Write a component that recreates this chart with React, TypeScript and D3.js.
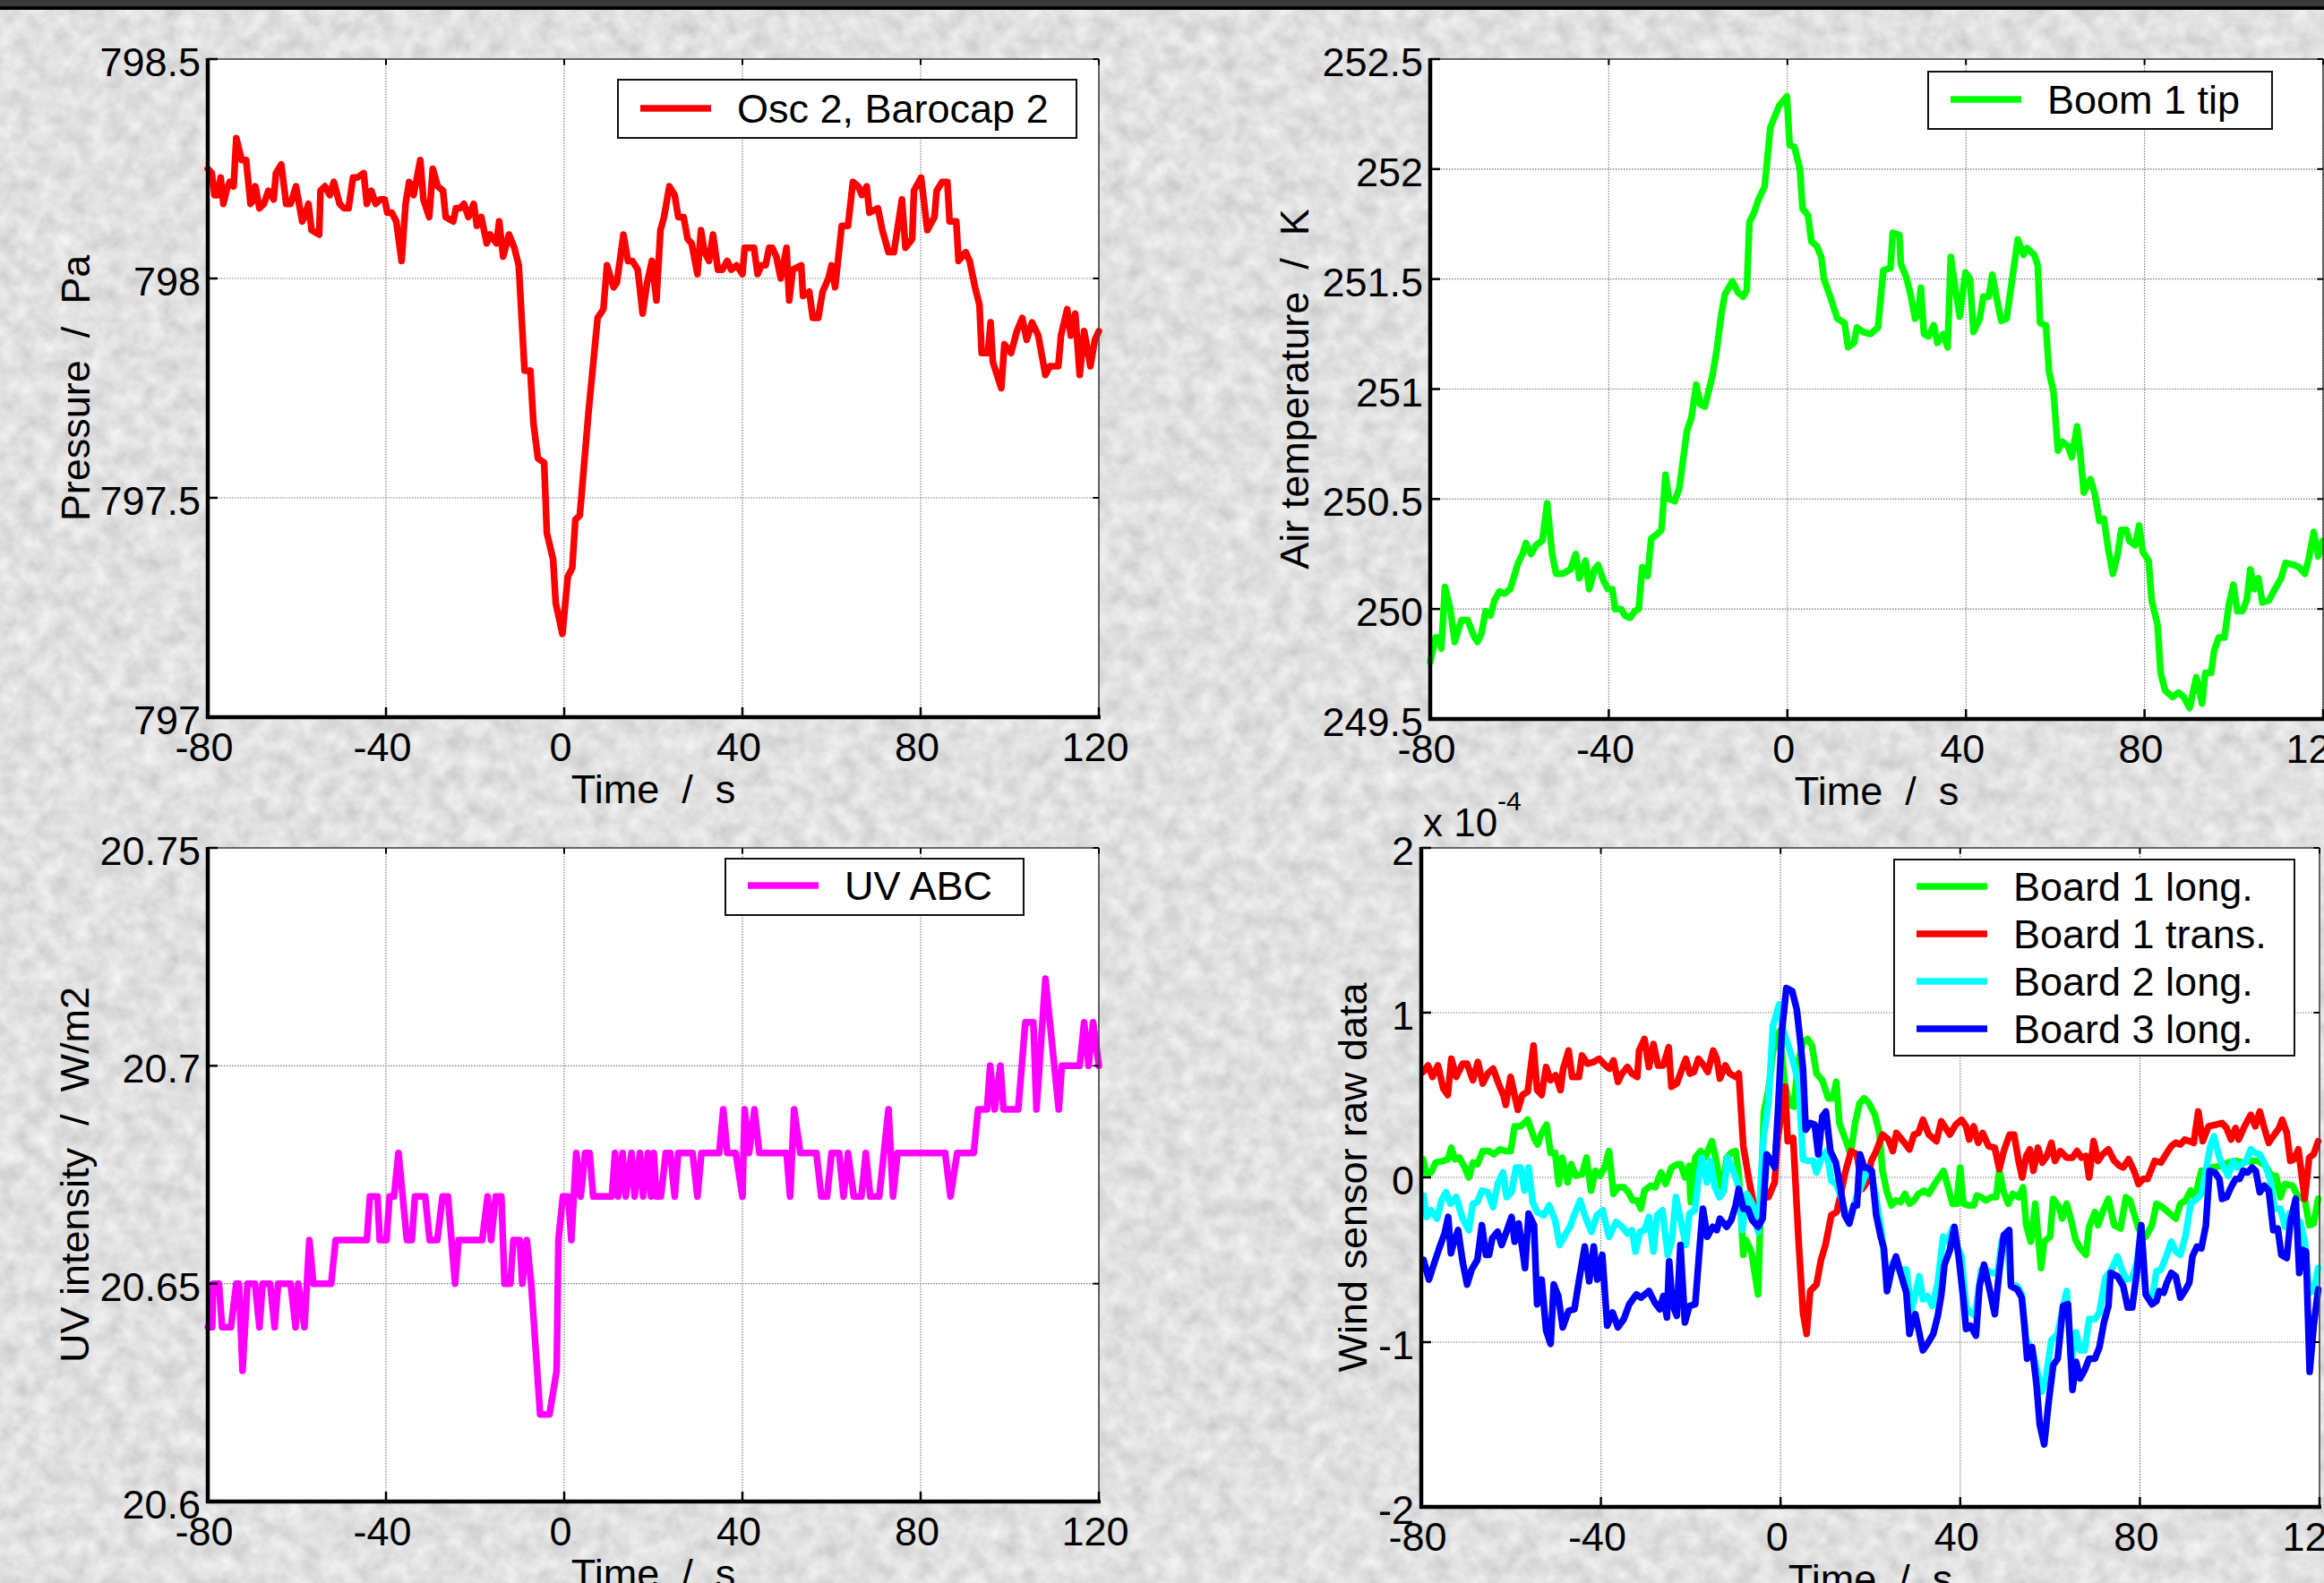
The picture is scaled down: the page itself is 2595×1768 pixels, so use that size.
import * as d3 from 'd3';

type Pt = [number, number];

const X_TICKS = [-80, -40, 0, 40, 80, 120];
const PRESSURE_TICKS = [797, 797.5, 798, 798.5];
const AIR_TEMP_TICKS = [249.5, 250, 250.5, 251, 251.5, 252, 252.5];
const UV_TICKS = [20.6, 20.65, 20.7, 20.75];
const WIND_TICKS = [-2, -1, 0, 1, 2];

// Osc 2, Barocap 2  (time s, Pa)
const pressure: Pt[] = [
  [-80,798.25],[-79.1,798.24],[-78.5,798.19],[-77.8,798.19],[-77.1,798.23],[-76.5,798.17],[-75.8,798.2],[-75.1,798.22],[-74.2,798.21],[-73.6,798.32],
  [-72.4,798.27],[-71.4,798.27],[-70.4,798.17],[-69.7,798.18],[-69.3,798.21],[-68.4,798.16],[-67.4,798.17],[-66.4,798.2],[-65.2,798.18],[-64.7,798.24],
  [-63.5,798.26],[-62.4,798.17],[-61.4,798.17],[-60.2,798.21],[-58.8,798.13],[-58.3,798.14],[-57.4,798.17],[-56.7,798.11],[-55,798.1],[-54.7,798.2],
  [-53.7,798.21],[-52.6,798.19],[-51.7,798.22],[-50.4,798.17],[-49.4,798.16],[-48.4,798.16],[-47.4,798.23],[-46.4,798.23],[-45,798.24],[-44.3,798.17],
  [-43.3,798.2],[-42.3,798.17],[-41.3,798.18],[-40.3,798.18],[-39.7,798.15],[-38.7,798.15],[-37.7,798.13],[-36.5,798.04],[-35.6,798.17],[-34.8,798.22],
  [-33.8,798.19],[-32.3,798.27],[-31.6,798.18],[-30.3,798.14],[-29.5,798.25],[-28.4,798.21],[-27.2,798.2],[-26.6,798.14],[-24.9,798.13],[-24.3,798.16],
  [-23.4,798.16],[-22.5,798.17],[-21.5,798.14],[-20.3,798.17],[-19.6,798.12],[-18.6,798.14],[-17.4,798.08],[-16.6,798.1],[-15.2,798.08],[-14.6,798.13],
  [-13.7,798.05],[-12.4,798.1],[-11.2,798.07],[-10.2,798.03],[-8.9,797.79],[-7.6,797.79],[-6.9,797.67],[-5.9,797.59],[-4.5,797.58],[-3.9,797.42],
  [-2.5,797.36],[-1.9,797.26],[-0.4,797.19],[0.8,797.32],[1.8,797.34],[2.5,797.45],[3.5,797.46],[5.5,797.7],[7.5,797.91],[8.8,797.93],
  [9.6,798.03],[11.1,797.98],[11.8,797.99],[13.3,798.1],[14.3,798.04],[15.3,798.04],[16.5,798.02],[17.6,797.92],[18.6,797.99],[19.7,798.04],
  [20.7,797.95],[21.6,798.11],[22.4,798.14],[23.6,798.21],[24.8,798.19],[25.6,798.14],[26.8,798.14],[27.7,798.09],[28.6,798.08],[29.9,798.01],
  [30.7,798.11],[31.5,798.06],[32.5,798.04],[33.4,798.1],[34.5,798.02],[35.5,798.02],[36.6,798.04],[37.5,798.02],[38.7,798.03],[40,798.01],
  [40.5,798.07],[42.6,798.07],[43.4,798.01],[44.3,798.03],[45.2,798.03],[46,798.07],[46.7,798.07],[47.6,798.05],[48.6,798],[49.9,798.07],
  [50.5,797.95],[51.3,798.02],[53.2,798.03],[53.6,797.96],[55,797.97],[55.8,797.91],[57,797.91],[58,797.97],[59.3,798],[60,798.03],
  [60.8,797.98],[62.3,798.12],[63.7,798.12],[64.8,798.22],[66,798.21],[66.8,798.19],[67.9,798.21],[68.5,798.15],[70.4,798.16],[71.4,798.11],
  [72.8,798.06],[74,798.06],[74.9,798.12],[75.8,798.18],[76.6,798.07],[78.1,798.09],[78.5,798.2],[80.1,798.23],[81.5,798.11],[83.1,798.14],
  [83.6,798.2],[84.8,798.22],[86,798.22],[86.5,798.13],[88,798.13],[88.5,798.04],[90.1,798.06],[91,798.04],[92.2,797.98],[93.2,797.94],
  [93.7,797.83],[95.1,797.83],[95.7,797.9],[96.2,797.81],[98.1,797.75],[98.8,797.85],[100.3,797.83],[101.6,797.88],[102.8,797.91],[103.8,797.86],
  [105,797.9],[106.4,797.87],[108,797.78],[109,797.8],[110.2,797.8],[110.9,797.8],[111.5,797.87],[112.9,797.93],[113.7,797.87],[114.7,797.92],
  [115.7,797.78],[116.7,797.88],[118.1,797.8],[119.1,797.86],[120,797.88],
];

// Boom 1 tip  (time s, K)
const airTemp: Pt[] = [
  [-80,249.76],[-78.8,249.87],[-78.3,249.87],[-77.5,249.82],[-76.7,250.1],[-75.5,250],[-74.5,249.85],[-73,249.95],[-71.6,249.95],[-70.3,249.88],
  [-69.4,249.85],[-68.5,249.89],[-67.6,249.99],[-66.5,249.97],[-65.6,250.04],[-64.5,250.08],[-63.4,250.07],[-62.1,250.09],[-60.3,250.21],[-59.3,250.25],
  [-58.6,250.3],[-57.4,250.25],[-56.3,250.29],[-54.9,250.31],[-53.8,250.48],[-52.7,250.25],[-51.8,250.16],[-50.3,250.16],[-48.6,250.18],[-47.4,250.25],
  [-46.6,250.14],[-45.2,250.22],[-44.4,250.09],[-43.2,250.18],[-42.4,250.2],[-41.2,250.13],[-40.2,250.09],[-39.2,250.09],[-38.6,250],[-37.2,250],
  [-36.4,249.97],[-35.2,249.96],[-34.2,249.99],[-33.3,250],[-32.5,250.19],[-31.3,250.15],[-30.5,250.32],[-29.2,250.34],[-28.2,250.36],[-27.3,250.61],
  [-26.5,250.5],[-25.2,250.49],[-24.2,250.55],[-22.5,250.81],[-21.5,250.87],[-20.4,251.02],[-19.5,250.93],[-18.5,250.92],[-16.8,251.06],[-15.8,251.18],
  [-14.8,251.34],[-14,251.43],[-12.3,251.49],[-11.1,251.44],[-9.9,251.42],[-9.1,251.45],[-8.5,251.76],[-7.5,251.8],[-6.5,251.86],[-5.1,251.92],
  [-3.8,252.19],[-2.8,252.24],[-1.8,252.29],[-0.1,252.33],[0.5,252.11],[1.6,252.1],[2.8,252],[3.4,251.82],[4.6,251.79],[5.4,251.67],
  [6.6,251.65],[7.6,251.6],[8.2,251.5],[9.6,251.42],[11.2,251.32],[12.8,251.3],[13.6,251.19],[14.9,251.21],[15.6,251.28],[16.9,251.26],
  [18.6,251.25],[20.3,251.28],[21.5,251.54],[23.1,251.55],[23.6,251.71],[25.1,251.7],[25.4,251.57],[26.6,251.51],[27.6,251.43],[28.6,251.32],
  [29.3,251.34],[29.9,251.46],[30.6,251.25],[31.6,251.24],[32.8,251.29],[33.6,251.21],[34.9,251.25],[35.9,251.19],[36.6,251.6],[37.6,251.46],
  [38.6,251.33],[39.9,251.53],[40.9,251.5],[41.7,251.26],[43.1,251.32],[43.9,251.42],[45.1,251.42],[45.9,251.52],[46.9,251.41],[47.9,251.31],
  [49.1,251.32],[50.3,251.49],[51.6,251.68],[52.9,251.61],[53.7,251.64],[55.3,251.61],[56.1,251.56],[56.6,251.3],[57.9,251.29],[58.6,251.08],
  [59.6,250.99],[60.6,250.72],[61.6,250.76],[62.9,250.74],[63.7,250.69],[64.9,250.83],[65.6,250.71],[66.4,250.53],[67.9,250.59],[68.9,250.52],
  [69.9,250.4],[70.9,250.41],[71.9,250.27],[72.9,250.16],[73.9,250.24],[74.8,250.36],[75.9,250.36],[76.6,250.31],[77.9,250.29],[78.8,250.38],
  [79.6,250.26],[80.9,250.22],[81.6,250.04],[82.9,249.93],[83.6,249.71],[84.6,249.63],[86.3,249.6],[87.6,249.62],[88.8,249.6],[90.1,249.55],
  [91.6,249.69],[92.9,249.57],[93.6,249.71],[94.9,249.71],[95.6,249.81],[96.6,249.87],[97.9,249.87],[98.9,250.02],[99.9,250.11],[100.8,249.99],
  [101.9,249.99],[102.9,250.04],[103.7,250.18],[104.6,250.09],[105.5,250.14],[106.4,250.03],[107.9,250.04],[108.9,250.08],[110.6,250.14],[111.6,250.21],
  [113.6,250.2],[114.6,250.19],[115.9,250.16],[116.8,250.23],[117.9,250.35],[118.9,250.24],[119.9,250.31],
];

// UV ABC  (time s, W/m2)
const uv: Pt[] = [
  [-80,20.64],[-79,20.64],[-78.8,20.65],[-77.5,20.65],[-76.8,20.64],[-74.8,20.64],[-73.6,20.65],[-73,20.65],[-72.2,20.63],[-71.1,20.65],
  [-69.4,20.65],[-68.4,20.64],[-67.7,20.65],[-66,20.65],[-65,20.64],[-64.2,20.65],[-61.4,20.65],[-60.3,20.64],[-59.7,20.65],[-58.3,20.64],
  [-57.2,20.66],[-56.3,20.65],[-52.3,20.65],[-51.3,20.66],[-44.3,20.66],[-43.6,20.67],[-41.9,20.67],[-41.4,20.66],[-39.9,20.66],[-39.2,20.67],
  [-38.2,20.67],[-37.2,20.68],[-35.3,20.66],[-34.2,20.66],[-33.5,20.67],[-31.2,20.67],[-30.2,20.66],[-28.5,20.66],[-27.3,20.67],[-26.1,20.67],
  [-24.5,20.65],[-23.7,20.66],[-18.4,20.66],[-17.2,20.67],[-16.4,20.66],[-15.4,20.67],[-14.1,20.67],[-13.4,20.65],[-12.1,20.65],[-11.4,20.66],
  [-10,20.66],[-9.4,20.65],[-8.4,20.66],[-7.4,20.65],[-5.4,20.62],[-3.3,20.62],[-1.7,20.63],[-1.3,20.66],[-0.3,20.67],[0.9,20.67],
  [1.6,20.66],[2.7,20.68],[3.7,20.67],[4.7,20.68],[5.7,20.68],[6.5,20.67],[10.7,20.67],[11.4,20.68],[12.1,20.67],[13.1,20.68],
  [13.8,20.67],[15.1,20.68],[15.8,20.67],[17,20.68],[17.7,20.67],[18.8,20.68],[19.5,20.67],[20.1,20.68],[20.7,20.67],[21.7,20.67],
  [22.8,20.68],[23.8,20.68],[24.8,20.67],[25.6,20.68],[28.8,20.68],[29.9,20.67],[30.8,20.68],[34.8,20.68],[35.7,20.69],[36.6,20.68],
  [38.5,20.68],[40,20.67],[40.5,20.69],[41.5,20.68],[42.7,20.69],[43.8,20.68],[49.9,20.68],[50.7,20.67],[51.6,20.69],[53,20.68],
  [56.6,20.68],[57.7,20.67],[59,20.67],[60,20.68],[61.7,20.68],[62.7,20.67],[63.7,20.68],[65,20.67],[66.7,20.67],[67.7,20.68],
  [68.7,20.67],[70.7,20.67],[72.8,20.69],[73.8,20.67],[74.8,20.68],[85.5,20.68],[86.7,20.67],[88.2,20.68],[91.9,20.68],[92.9,20.69],
  [94.9,20.69],[95.6,20.7],[96.6,20.69],[97.9,20.7],[98.6,20.69],[101.9,20.69],[103.5,20.71],[105.3,20.71],[106,20.69],[108,20.72],
  [111,20.69],[111.7,20.7],[115.7,20.7],[116.7,20.71],[117.7,20.7],[118.7,20.71],[120,20.7],
];

// Wind sensor raw data, x 1e-4  (time s, value)
const board1Long: Pt[] = [
  [-79.6,0.11],[-78.8,0.02],[-77.8,0.03],[-76.8,0.09],[-75.1,0.1],[-74.1,0.11],[-73.3,0.18],[-72.5,0.11],[-71.5,0.12],[-70.3,0.06],
  [-69.4,0],[-68.5,0.09],[-67.5,0.08],[-66.3,0.16],[-65,0.16],[-63.8,0.14],[-62.5,0.17],[-61.2,0.16],[-60.1,0.16],[-59.2,0.31],
  [-57.9,0.31],[-56.3,0.35],[-54.9,0.24],[-54.1,0.2],[-53.2,0.27],[-52.1,0.32],[-51.2,0.15],[-50.2,0.15],[-49.4,-0.04],[-48.6,0.12],
  [-47.4,-0.03],[-46.6,0.08],[-45.6,0.01],[-44.2,0.02],[-43.2,0.12],[-42.2,-0.08],[-41.2,0.04],[-40.2,0.01],[-39.2,0.06],[-38.2,0.16],
  [-37.2,-0.1],[-36.2,-0.06],[-34.9,-0.06],[-33.9,-0.09],[-32.9,-0.14],[-31.9,-0.14],[-31.1,-0.19],[-30.3,-0.08],[-28.9,-0.05],[-27.9,-0.06],
  [-26.6,0.03],[-25.6,-0.04],[-24.3,0.06],[-22.9,0.08],[-22.2,0.08],[-21.3,0],[-20.4,0.07],[-20,-0.15],[-19,0.12],[-17.8,0.16],
  [-16.8,0.12],[-15.3,0.22],[-14.3,0.1],[-13,-0.1],[-12,0.12],[-11,0.15],[-10,0.16],[-9.3,0.01],[-8.3,-0.47],[-7.7,-0.38],
  [-6.5,-0.45],[-5,-0.71],[-4.3,-0.04],[-3.7,0.4],[-2.7,0.53],[-1.7,0.76],[-0.2,0.89],[0.9,0.58],[2,0.44],[3,0.43],
  [3.8,0.68],[5,0.82],[6,0.84],[7,0.8],[8,0.63],[9.3,0.59],[10.6,0.48],[11.6,0.48],[12.4,0.58],[13.1,0.33],
  [14.3,0.24],[15.6,0.14],[16.6,0.33],[17.6,0.45],[18.6,0.48],[19.7,0.45],[21,0.38],[22,0.27],[22.7,0.04],[23.7,-0.09],
  [24.7,-0.17],[25.7,-0.14],[26.7,-0.15],[27.7,-0.1],[28.7,-0.16],[29.7,-0.14],[30.7,-0.1],[32,-0.08],[33,-0.1],[34.3,-0.04],
  [35.3,0],[36.3,0.04],[37.3,-0.06],[38.3,-0.16],[39.2,-0.16],[40,0.06],[40.7,-0.16],[42,-0.17],[43,-0.17],[43.7,-0.11],
  [44.7,-0.12],[45.7,-0.14],[47,-0.12],[48,-0.12],[48.7,0.04],[49.7,-0.09],[50.7,-0.16],[51.7,-0.1],[53,-0.12],[54,-0.06],
  [54.7,-0.29],[55.7,-0.39],[56.7,-0.16],[58,-0.55],[58.7,-0.39],[60,-0.36],[60.7,-0.13],[62,-0.18],[62.7,-0.25],[63.7,-0.16],
  [64.7,-0.26],[65.7,-0.38],[66.7,-0.43],[68,-0.47],[68.7,-0.3],[70,-0.21],[70.7,-0.29],[71.7,-0.21],[73,-0.13],[74.3,-0.29],
  [75.7,-0.31],[76.9,-0.12],[77.8,-0.14],[78.7,-0.22],[79.7,-0.31],[81.3,-0.36],[82.7,-0.29],[83.7,-0.16],[85,-0.18],[86.7,-0.22],
  [88,-0.25],[89,-0.16],[90.2,-0.14],[91.3,-0.08],[92.3,-0.12],[93.7,0.04],[95,0.03],[96,0.06],[98,0.07],[99.7,0.09],
  [101.3,0.1],[103,0.09],[104.7,0.1],[106.3,0.1],[108,0.07],[109.3,0.01],[110.3,0.01],[111.3,-0.12],[112.3,-0.04],[114,-0.05],
  [115.3,-0.12],[116.7,-0.13],[117.7,-0.29],[118.7,-0.28],[119.7,-0.13],
];

const board1Trans: Pt[] = [
  [-79.6,0.64],[-78.5,0.68],[-77.5,0.61],[-76.3,0.68],[-75.1,0.54],[-74.1,0.5],[-73.3,0.72],[-72.2,0.61],[-70.8,0.69],[-69.8,0.69],
  [-68.5,0.59],[-67.4,0.7],[-66.3,0.57],[-65.2,0.63],[-64,0.66],[-62.8,0.57],[-61.6,0.49],[-61.2,0.44],[-60.1,0.61],[-58.5,0.41],
  [-57.5,0.5],[-56.3,0.52],[-55,0.8],[-54.2,0.53],[-53.2,0.5],[-52.2,0.67],[-51.2,0.59],[-50.1,0.62],[-49,0.53],[-48.4,0.66],
  [-47.2,0.77],[-46.4,0.61],[-44.9,0.61],[-44.2,0.74],[-43,0.69],[-41.7,0.7],[-40.4,0.72],[-39,0.68],[-38.1,0.66],[-37.2,0.71],
  [-36.2,0.58],[-35.3,0.63],[-34.1,0.67],[-33.1,0.63],[-31.9,0.61],[-31.5,0.77],[-30.3,0.84],[-29.3,0.67],[-28.3,0.81],[-27.3,0.68],
  [-26.1,0.68],[-24.9,0.79],[-24.3,0.55],[-23.1,0.57],[-22.3,0.63],[-21.1,0.72],[-20.2,0.63],[-19.3,0.64],[-18.3,0.72],[-17.1,0.68],
  [-16.2,0.64],[-15,0.77],[-14.2,0.72],[-13.5,0.6],[-12.3,0.68],[-11.3,0.63],[-10,0.61],[-9.3,0.63],[-8.3,0.19],[-7,-0.02],
  [-5.7,-0.2],[-4,-0.12],[-2.7,-0.12],[-1.3,-0.03],[-0.7,0.22],[1,0.55],[1.6,0.22],[2.8,0.24],[4,-0.38],[5,-0.82],
  [5.8,-0.95],[6.6,-0.69],[8,-0.65],[9,-0.5],[10,-0.41],[11.3,-0.23],[12.5,-0.21],[13.4,-0.1],[14.4,0.03],[15.7,0.16],
  [17,0.14],[18.2,-0.07],[19.2,-0.03],[20.2,0.1],[21.3,0.16],[22.7,0.26],[24,0.23],[25,0.16],[25.8,0.27],[27.3,0.22],
  [28.7,0.17],[29.7,0.26],[30.7,0.27],[31.7,0.35],[33,0.26],[34.7,0.22],[35.8,0.34],[37.7,0.26],[39,0.32],[40.3,0.35],
  [41.3,0.31],[42,0.23],[43,0.31],[44,0.21],[45,0.27],[46.3,0.19],[47.7,0.18],[48.7,0.05],[49.7,0.16],[51,0.26],
  [52,0.26],[53,0.1],[53.8,0],[54.7,0.13],[55.5,0.17],[56.3,0.04],[57.3,0.18],[58.3,0.09],[59.3,0.13],[60.3,0.21],
  [61.1,0.1],[62.3,0.16],[63.7,0.12],[65,0.12],[66,0.16],[67,0.12],[68,0.13],[68.7,0],[69.7,0.22],[70.7,0.1],
  [71.7,0.14],[73,0.17],[74.3,0.1],[75.5,0.07],[76.3,0.06],[77.5,0.11],[78.7,0.04],[79.7,-0.04],[80.7,-0.01],[81.7,-0.01],
  [83.3,0.1],[84.7,0.09],[85.8,0.14],[87,0.19],[88,0.21],[89,0.2],[90,0.23],[91,0.22],[92,0.21],[93,0.4],
  [94,0.22],[95.3,0.31],[96.9,0.32],[98.3,0.33],[99.3,0.3],[100.3,0.23],[101.3,0.3],[102,0.23],[103.3,0.31],[104.7,0.38],
  [105.7,0.31],[106.7,0.4],[107.7,0.3],[108.7,0.21],[109.7,0.25],[111,0.3],[111.7,0.35],[112.7,0.27],[113.5,0.1],[114.3,0.11],
  [115.3,0.17],[116.7,-0.13],[117.7,0.12],[118.7,0.14],[119.7,0.22],
];

const board2Long: Pt[] = [
  [-79.5,-0.11],[-78.8,-0.24],[-77.8,-0.2],[-76.5,-0.25],[-75.5,-0.14],[-74.5,-0.09],[-73.5,-0.16],[-72.2,-0.12],[-70.8,-0.25],[-69.4,-0.32],
  [-68.5,-0.16],[-67.5,-0.15],[-66.5,-0.08],[-65.2,-0.09],[-64,-0.18],[-63,-0.04],[-61.8,0.03],[-61,-0.12],[-59.9,-0.09],[-58.9,0.06],
  [-57.9,0.06],[-57,-0.08],[-56.1,0.06],[-55.2,-0.15],[-54.2,-0.21],[-52.7,-0.23],[-51.5,-0.17],[-50.2,-0.26],[-49.2,-0.41],[-48.2,-0.36],
  [-46.9,-0.3],[-45.7,-0.21],[-44.6,-0.14],[-43.6,-0.23],[-42.1,-0.33],[-40.9,-0.23],[-39.6,-0.2],[-38.2,-0.36],[-36.6,-0.27],[-35.3,-0.3],
  [-34.1,-0.34],[-33.1,-0.32],[-32.3,-0.45],[-31.3,-0.33],[-30.3,-0.32],[-29.3,-0.24],[-28.3,-0.45],[-27.5,-0.23],[-26.3,-0.2],[-25.1,-0.47],
  [-24.2,-0.38],[-23.3,-0.12],[-22.3,-0.25],[-21.1,-0.41],[-20.3,-0.22],[-19.1,-0.2],[-18.3,-0.01],[-17.5,0.12],[-16.4,-0.03],[-15.6,0.1],
  [-14.6,-0.06],[-13.6,-0.12],[-12.6,-0.08],[-11.8,0.12],[-11,0.07],[-10,0],[-9.3,-0.06],[-8.5,-0.32],[-7.5,-0.1],[-6.3,-0.16],
  [-5,-0.33],[-3.8,0.24],[-2.7,0.45],[-1.7,0.92],[-0.3,1.05],[0.6,0.89],[1.6,0.81],[2.6,0.72],[4,0.58],[5,0.11],
  [6.2,0.1],[7.3,0.1],[8,0.03],[9,0.11],[10.3,0.16],[11.3,-0.02],[12.4,-0.04],[13.5,-0.12],[14.6,-0.23],[15.6,-0.25],
  [16.9,-0.12],[18.3,-0.03],[19.3,0.06],[20.3,0.01],[21.3,-0.13],[22.3,-0.3],[23.3,-0.53],[24,-0.66],[25,-0.52],[26.3,-0.56],
  [28,-0.56],[29.1,-0.81],[30,-0.71],[30.9,-0.6],[31.7,-0.74],[32.7,-0.72],[33.8,-0.78],[35,-0.64],[36.2,-0.36],[37.3,-0.39],
  [38.3,-0.31],[39.3,-0.42],[40.3,-0.48],[41.3,-0.79],[42.3,-0.82],[43.3,-0.84],[44.7,-0.56],[45.7,-0.56],[47,-0.58],[48.3,-0.58],
  [49.3,-0.38],[50.3,-0.34],[51.3,-0.65],[52.7,-0.66],[53.7,-0.71],[54.7,-0.99],[56,-1.04],[57,-1.16],[58.2,-1.3],[59.1,-1.21],
  [60.3,-0.99],[61.7,-0.95],[62.7,-0.81],[63.7,-0.69],[64.7,-1.12],[65.8,-0.94],[66.7,-1.05],[67.7,-1.05],[68.7,-0.86],[70,-0.86],
  [71,-0.82],[72.3,-0.61],[73.7,-0.56],[75,-0.48],[76,-0.56],[77,-0.62],[78.3,-0.61],[79.3,-0.52],[80.3,-0.32],[81.3,-0.7],
  [82.7,-0.74],[83.7,-0.57],[84.7,-0.56],[86,-0.47],[87,-0.39],[88,-0.45],[89,-0.47],[90.2,-0.35],[91.3,-0.16],[92.7,-0.13],
  [93.7,-0.1],[94.7,0.04],[95.7,0.19],[96.5,0.25],[97.7,0.12],[98.7,0.06],[99.7,0.01],[100.7,0.1],[101.7,0.06],[102.7,0.08],
  [103.7,0.1],[104.7,0.17],[105.7,0.15],[106.7,0.14],[107.7,0.09],[109,-0.01],[110,-0.19],[111.3,-0.19],[112.3,-0.3],[113.3,-0.22],
  [114.3,-0.27],[115.7,-0.27],[116.7,-0.39],[117.7,-0.7],[118.7,-0.69],[119.7,-0.55],
];

const board3Long: Pt[] = [
  [-79.5,-0.5],[-78.3,-0.62],[-77.1,-0.52],[-76,-0.43],[-74.8,-0.34],[-74,-0.24],[-73.4,-0.46],[-72.7,-0.39],[-71.8,-0.32],[-70.8,-0.51],
  [-69.8,-0.65],[-68.8,-0.56],[-67.5,-0.5],[-66.5,-0.29],[-65.6,-0.47],[-64.9,-0.47],[-64.2,-0.37],[-63,-0.33],[-62.1,-0.41],[-60.9,-0.32],
  [-59.9,-0.24],[-59.2,-0.39],[-58.3,-0.28],[-57.5,-0.43],[-56.9,-0.55],[-56.1,-0.22],[-54.9,-0.29],[-54.2,-0.77],[-53.2,-0.62],[-52.2,-0.93],
  [-51.2,-1.01],[-50.5,-0.65],[-49.5,-0.72],[-48.5,-0.91],[-47.2,-0.81],[-45.9,-0.8],[-44.9,-0.63],[-43.6,-0.42],[-42.6,-0.63],[-41.6,-0.42],
  [-40.8,-0.62],[-39.7,-0.47],[-38.6,-0.9],[-37.4,-0.82],[-36.2,-0.91],[-34.9,-0.86],[-33.7,-0.77],[-32.1,-0.71],[-31.1,-0.73],[-29.3,-0.69],
  [-28,-0.76],[-26.9,-0.8],[-26.1,-0.72],[-25.3,-0.85],[-24.8,-0.51],[-24.1,-0.77],[-23.1,-0.84],[-22.3,-0.41],[-21.3,-0.88],[-20.3,-0.78],
  [-19,-0.77],[-18,-0.42],[-17.3,-0.19],[-16.3,-0.36],[-15.1,-0.3],[-14.2,-0.32],[-13.5,-0.25],[-12,-0.3],[-11,-0.26],[-10,-0.17],
  [-9.3,-0.07],[-8.3,-0.19],[-7.3,-0.19],[-6.3,-0.26],[-5,-0.3],[-4,-0.25],[-3.1,0.14],[-2.3,0.11],[-1.3,0.06],[-0.5,0.44],
  [0.3,0.89],[1.3,1.15],[2.6,1.13],[3.6,1.02],[4.3,0.85],[5,0.66],[5.6,0.29],[6.6,0.33],[7.6,0.32],[8.4,0.14],
  [9.3,0.37],[10.1,0.4],[11.1,0.16],[12.3,0.09],[13.3,-0.06],[14.3,-0.23],[15.3,-0.28],[16.3,-0.17],[17,-0.17],[17.7,0.14],
  [18.6,0.06],[19.3,0.06],[20.3,0.04],[21.3,-0.23],[22.3,-0.36],[23,-0.43],[23.7,-0.69],[24.7,-0.56],[25.7,-0.48],[26.7,-0.58],
  [28,-0.7],[28.7,-0.95],[29.3,-0.88],[30,-0.83],[30.7,-0.92],[31.7,-1.05],[32.7,-1.01],[34,-0.95],[35,-0.84],[35.8,-0.71],
  [36.5,-0.53],[37.7,-0.44],[38.7,-0.3],[39.7,-0.49],[40.7,-0.74],[41.3,-0.92],[42.3,-0.9],[43.5,-0.96],[44.3,-0.66],[45.3,-0.53],
  [46.3,-0.65],[47.7,-0.83],[48.7,-0.57],[49.7,-0.35],[50.9,-0.32],[51.3,-0.66],[52.7,-0.68],[53.7,-0.73],[54.3,-0.9],[54.9,-1.1],
  [56,-1.03],[57,-1.26],[57.7,-1.5],[58.7,-1.62],[59.7,-1.36],[60.7,-1.14],[61.7,-1.1],[62.9,-0.78],[64,-0.77],[65,-1.29],
  [65.8,-1.12],[66.7,-1.22],[67.7,-1.17],[68.7,-1.1],[70,-1.1],[71,-1.03],[72,-0.88],[73,-0.78],[73.5,-0.58],[75,-0.6],
  [76.3,-0.66],[77.3,-0.79],[78.3,-0.79],[79.3,-0.58],[80.3,-0.29],[81.3,-0.71],[82.7,-0.77],[83.7,-0.75],[84.3,-0.69],[85.3,-0.7],
  [86,-0.64],[87,-0.58],[88,-0.6],[89,-0.73],[90,-0.69],[91,-0.64],[91.7,-0.48],[92.7,-0.42],[93.7,-0.43],[94.7,-0.29],
  [95.5,0.04],[96.7,0.03],[97.7,-0.01],[98.3,-0.13],[99.3,-0.12],[100.3,-0.06],[101.3,-0.01],[102.2,-0.01],[103,0.04],[104,0.03],
  [105,0.06],[105.8,0.04],[106.7,-0.09],[107.7,-0.05],[108.7,-0.08],[109.7,-0.32],[110.7,-0.31],[111.5,-0.47],[112.7,-0.49],[113.5,-0.27],
  [114.7,-0.13],[115.5,-0.58],[116.3,-0.44],[117,-0.45],[117.8,-1.18],[118.7,-0.9],[119.7,-0.68],
];

const FONT = '"Liberation Sans", Arial, Helvetica, sans-serif';
const LINE_W = 7.5;

interface Series { data: Pt[]; color: string; label: string }
interface PanelProps {
  left: number; right: number; top: number; bottom: number;
  yDomain: [number, number];
  yTicks: number[];
  series: Series[];
  legend: { x: number; y: number; w: number; h: number; rowY: number[] };
  yLabel: string;
  yLabelX: number;
}

function Panel({ left, right, top, bottom, yDomain, yTicks, series, legend, yLabel, yLabelX }: PanelProps) {
  const x = d3.scaleLinear().domain([-80, 120]).range([left, right]);
  const y = d3.scaleLinear().domain(yDomain).range([bottom, top]);
  const line = d3.line<Pt>().x(d => x(d[0])).y(d => y(d[1]));
  const tick = 11;

  return (
    <g fontFamily={FONT}>
      <rect x={left} y={top} width={right - left} height={bottom - top} fill="#fff" />

      {/* Grid */}
      {X_TICKS.map(t => (
        <line key={'gx' + t} x1={x(t)} x2={x(t)} y1={top} y2={bottom}
          stroke="#777" strokeWidth={1.1} strokeDasharray="1.5,1.5" />
      ))}
      {yTicks.map(t => (
        <line key={'gy' + t} x1={left} x2={right} y1={y(t)} y2={y(t)}
          stroke="#777" strokeWidth={1.1} strokeDasharray="1.5,1.5" />
      ))}

      {/* Lines */}
      {series.map(s => (
        <path key={s.label} d={line(s.data) ?? ''} fill="none" stroke={s.color}
          strokeWidth={LINE_W} strokeLinejoin="round" strokeLinecap="round" />
      ))}

      {/* Box */}
      <line x1={left} x2={right} y1={top} y2={top} stroke="#444" strokeWidth={1.6} />
      <line x1={right} x2={right} y1={top} y2={bottom} stroke="#444" strokeWidth={1.6} />
      <line x1={left} x2={left} y1={top - 1} y2={bottom + 2} stroke="#000" strokeWidth={4.5} />
      <line x1={left - 2} x2={right + 2} y1={bottom} y2={bottom} stroke="#000" strokeWidth={4.5} />

      {/* Ticks */}
      {X_TICKS.map(t => (
        <g key={'tx' + t}>
          <line x1={x(t)} x2={x(t)} y1={bottom} y2={bottom - tick} stroke="#000" strokeWidth={2.5} />
          <line x1={x(t)} x2={x(t)} y1={top} y2={top + tick * 0.6} stroke="#000" strokeWidth={2} />
          <text x={x(t) - 4} y={bottom + 49} textAnchor="middle" fontSize={45} fill="#000">{String(t)}</text>
        </g>
      ))}
      {yTicks.map(t => (
        <g key={'ty' + t}>
          <line x1={left} x2={left + tick} y1={y(t)} y2={y(t)} stroke="#000" strokeWidth={2.5} />
          <line x1={right} x2={right - tick * 0.6} y1={y(t)} y2={y(t)} stroke="#000" strokeWidth={2} />
          <text x={left - 8} y={y(t) + 19} textAnchor="end" fontSize={45} fill="#000">{String(t)}</text>
        </g>
      ))}

      {/* Axis titles */}
      <text x={(left + right) / 2} y={bottom + 96} textAnchor="middle" fontSize={45}
        xmlSpace="preserve" style={{ whiteSpace: 'pre' }}>{'Time  /  s'}</text>
      <text transform={`translate(${yLabelX},${(top + bottom) / 2}) rotate(-90)`} textAnchor="middle"
        fontSize={45} xmlSpace="preserve" style={{ whiteSpace: 'pre' }}>{yLabel}</text>

      {/* Legend */}
      <rect x={legend.x} y={legend.y} width={legend.w} height={legend.h} fill="#fff" stroke="#111" strokeWidth={2} />
      {series.map((s, i) => (
        <g key={'lg' + s.label}>
          <line x1={legend.x + 25} x2={legend.x + 104} y1={legend.rowY[i]} y2={legend.rowY[i]}
            stroke={s.color} strokeWidth={LINE_W} />
          <text x={legend.x + 133} y={legend.rowY[i] + 16} fontSize={45} fill="#000">{s.label}</text>
        </g>
      ))}
    </g>
  );
}

export default function App() {
  const W = 2595;
  const H = 1768;
  return (
    <svg width={W} height={H} style={{ position: 'absolute', left: 0, top: 0, display: 'block' }}>
      <defs>
        <filter id="granite" x="0" y="0" width="100%" height="100%">
          <feTurbulence type="fractalNoise" baseFrequency="0.05" numOctaves={4} seed={7} />
          <feColorMatrix type="matrix"
            values="0.38 0 0 0 0.56  0.38 0 0 0 0.56  0.38 0 0 0 0.56  0 0 0 0 1" />
        </filter>
      </defs>
      <rect x={0} y={0} width={W} height={H} fill="#c4c4c4" filter="url(#granite)" />
      <rect x={0} y={0} width={W} height={7} fill="#3a3a3a" />
      <rect x={0} y={7} width={W} height={4} fill="#000" />

      <Panel left={232} right={1227} top={66} bottom={801}
        yDomain={[797, 798.5]} yTicks={PRESSURE_TICKS}
        series={[{ data: pressure, color: '#ff0000', label: 'Osc 2, Barocap 2' }]}
        legend={{ x: 690, y: 89, w: 512, h: 65, rowY: [121] }}
        yLabel={'Pressure  /  Pa'} yLabelX={100} />

      <Panel left={1597} right={2594} top={66} bottom={803}
        yDomain={[249.5, 252.5]} yTicks={AIR_TEMP_TICKS}
        series={[{ data: airTemp, color: '#00ff00', label: 'Boom 1 tip' }]}
        legend={{ x: 2153, y: 80, w: 384, h: 64, rowY: [111] }}
        yLabel={'Air temperature  /  K'} yLabelX={1461} />

      <Panel left={232} right={1227} top={947} bottom={1677}
        yDomain={[20.6, 20.75]} yTicks={UV_TICKS}
        series={[{ data: uv, color: '#ff00ff', label: 'UV ABC' }]}
        legend={{ x: 810, y: 959, w: 333, h: 63, rowY: [989] }}
        yLabel={'UV intensity  /  W/m2'} yLabelX={99} />

      <Panel left={1587} right={2590} top={947} bottom={1683}
        yDomain={[-2, 2]} yTicks={WIND_TICKS}
        series={[
          { data: board1Long, color: '#00ff00', label: 'Board 1 long.' },
          { data: board1Trans, color: '#ff0000', label: 'Board 1 trans.' },
          { data: board2Long, color: '#00ffff', label: 'Board 2 long.' },
          { data: board3Long, color: '#0000ff', label: 'Board 3 long.' },
        ]}
        legend={{ x: 2115, y: 960, w: 447, h: 219, rowY: [990, 1043, 1096, 1149] }}
        yLabel={'Wind sensor raw data'} yLabelX={1526} />

      <text x={1589} y={934} fontFamily={FONT} fontSize={44} fill="#000">x 10</text>
      <text x={1672} y={905} fontFamily={FONT} fontSize={30} fill="#000">-4</text>
    </svg>
  );
}
